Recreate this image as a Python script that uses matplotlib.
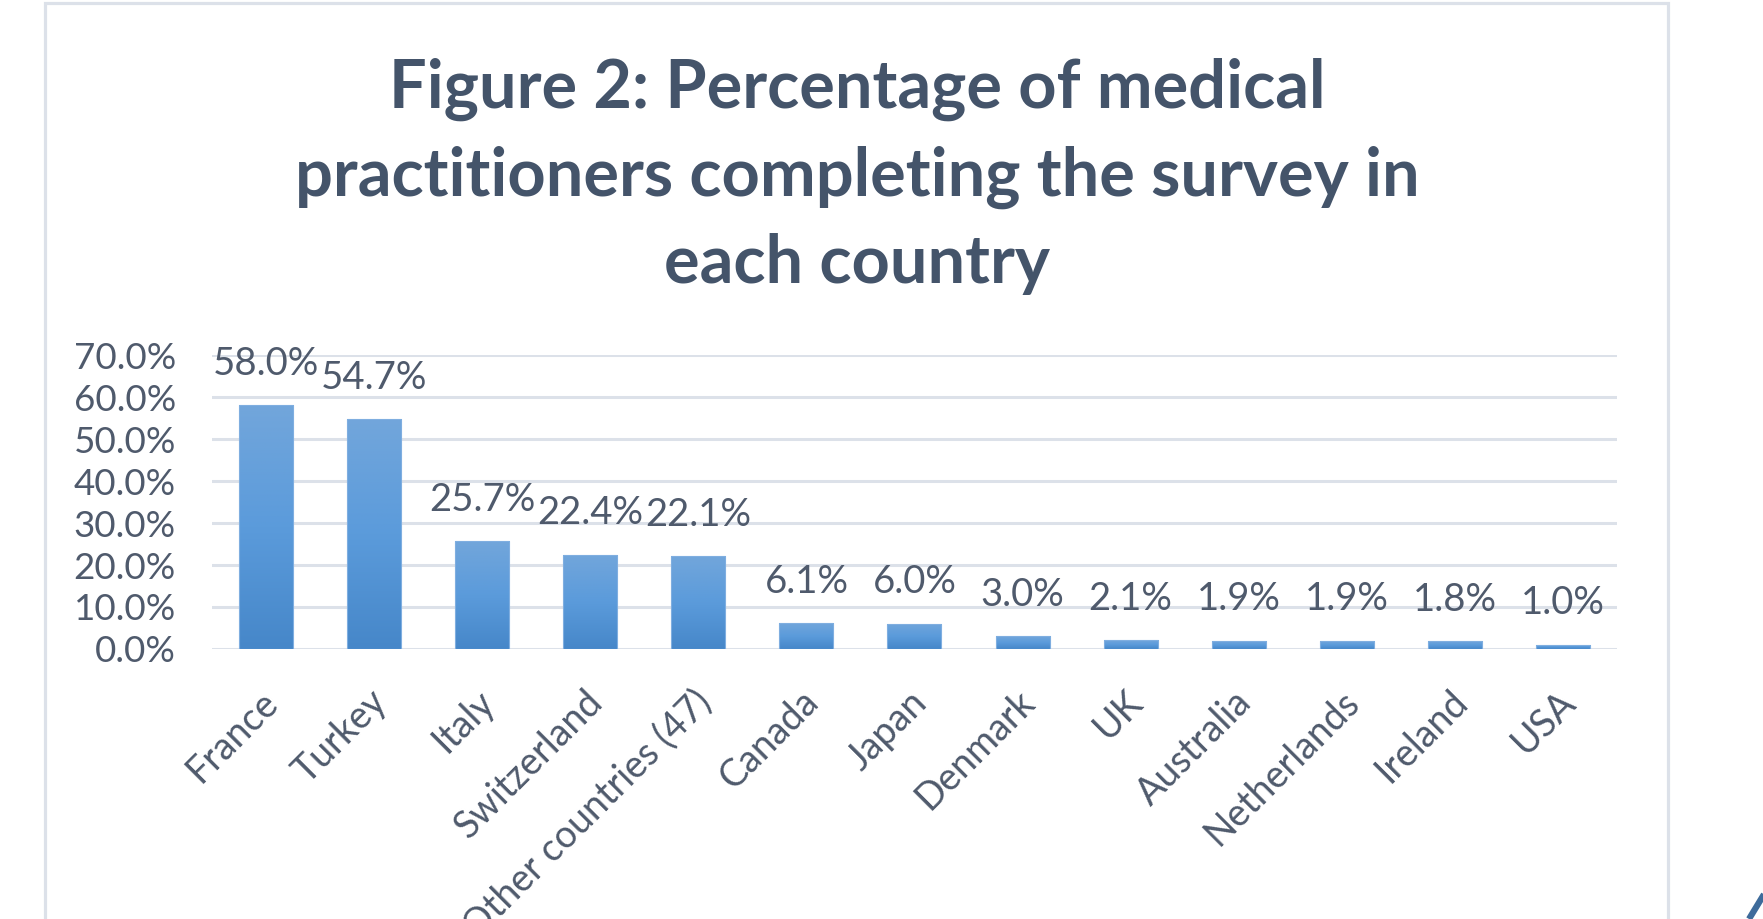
import numpy as np
import matplotlib
matplotlib.use('Agg')
import matplotlib.pyplot as plt
from matplotlib.colors import LinearSegmentedColormap
from matplotlib.lines import Line2D
from matplotlib.patches import Rectangle
from matplotlib.transforms import ScaledTranslation

countries = ['France', 'Turkey', 'Italy', 'Switzerland', 'Other countries (47)',
             'Canada', 'Japan', 'Denmark', 'UK', 'Australia', 'Netherlands',
             'Ireland', 'USA']
percent = [58.0, 54.7, 25.7, 22.4, 22.1, 6.1, 6.0, 3.0, 2.1, 1.9, 1.9, 1.8, 1.0]
y_ticks = [0, 10, 20, 30, 40, 50, 60, 70]
title = 'Figure 2: Percentage of medical\npractitioners completing the survey in\neach country'

TEXT = '#44546A'
LABEL = '#4F5A6C'
GRID = '#DCE1E9'

plt.rcParams['font.family'] = ['Lato', 'DejaVu Sans']

fig = plt.figure(figsize=(17.63, 9.19), dpi=100)
ax = fig.add_axes([0.1202, 0.2938, 0.7970, 0.3199])

# outer chart border (bottom runs off the picture)
fig.add_artist(Rectangle((45 / 1763, -0.1), (1668 - 45) / 1763, 1.1 - 3.5 / 919,
                         transform=fig.transFigure, fill=False,
                         edgecolor=GRID, linewidth=2.3))
# slide decoration in the bottom right corner
fig.add_artist(Line2D([1749 / 1763, 1766 / 1763], [0.0, 28 / 919],
                      transform=fig.transFigure, color='#3E6B9B',
                      linewidth=4.5, solid_capstyle='butt'))

fig.text(0.486, 0.937, title, ha='center', va='top', fontsize=48,
         fontweight='bold', color=TEXT, linespacing=1.48)

x = np.arange(len(countries))
bars = ax.bar(x, percent, width=0.5, color='none', edgecolor='#7FAEE0',
              linewidth=0.8, zorder=3)

cmap = LinearSegmentedColormap.from_list('bar', ['#4687C9', '#5B9BDB', '#72A6DB'])
grad = np.linspace(0, 1, 256).reshape(-1, 1)
for b in bars:
    x0, y0 = b.get_xy()
    im = ax.imshow(grad, extent=[x0, x0 + b.get_width(), y0, y0 + b.get_height()],
                   cmap=cmap, aspect='auto', origin='lower', zorder=2.5)
    im.set_clip_path(b)

for xi, v in zip(x, percent):
    ax.annotate(f'{v:.1f}%', (xi, v), xytext=(0, 22), textcoords='offset points',
                ha='center', va='baseline', fontsize=27.5, color=LABEL)

ax.set_xlim(-0.5, len(countries) - 0.5)
ax.set_ylim(0, 70)
ax.set_yticks(y_ticks)
ax.set_yticklabels([f'{t:.1f}%' for t in y_ticks])
ax.yaxis.grid(True, color=GRID, linewidth=2.2, zorder=0)
ax.set_axisbelow(True)
for s in ax.spines.values():
    s.set_visible(False)

ax.set_xticks(x)
ax.set_xticklabels(countries)
ax.tick_params(axis='y', length=0, pad=26, labelsize=26.5, labelcolor=LABEL)
ax.tick_params(axis='x', length=0, pad=25, labelsize=27, labelcolor=LABEL)
shift = ScaledTranslation(-6 / 100, 0, fig.dpi_scale_trans)
for lab in ax.get_xticklabels():
    lab.set_rotation(45)
    lab.set_ha('right')
    lab.set_va('top')
    lab.set_rotation_mode('anchor')
    lab.set_transform(lab.get_transform() + shift)

fig.savefig('out.png', dpi=100)
